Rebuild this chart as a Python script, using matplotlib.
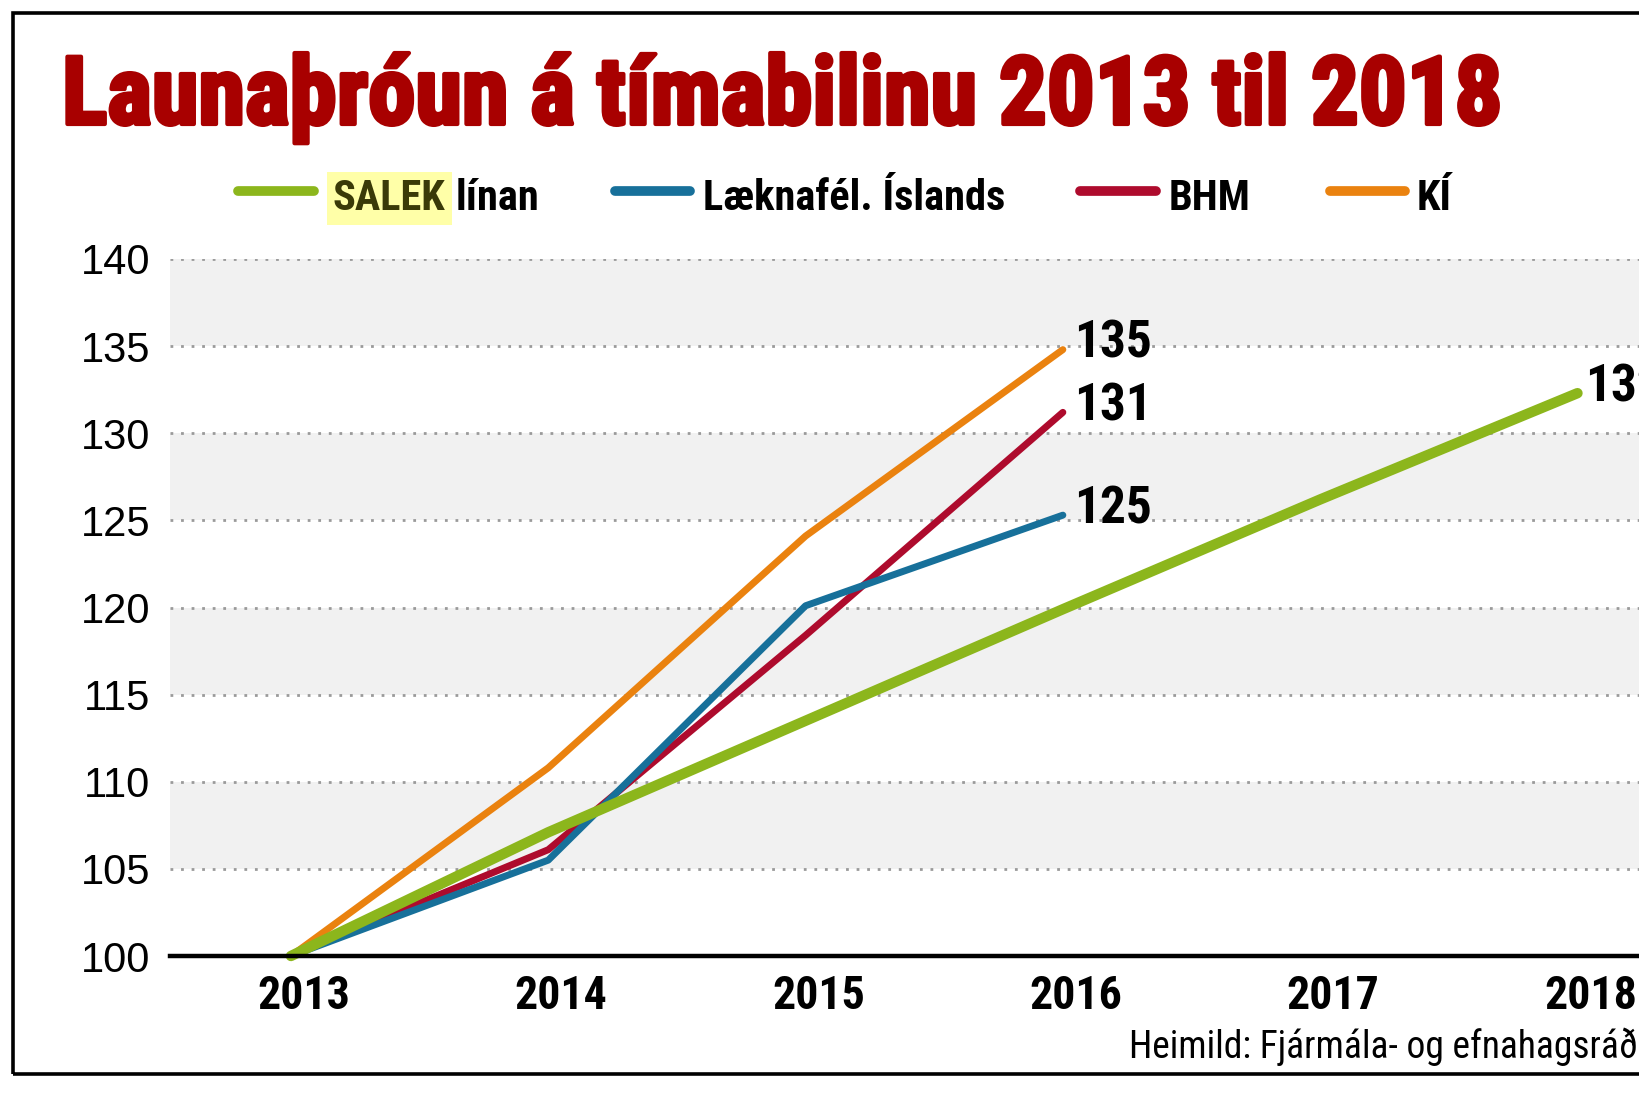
import matplotlib
matplotlib.use("Agg")
import matplotlib.pyplot as plt
from matplotlib import font_manager as fm
from matplotlib.lines import Line2D
from matplotlib.patches import Rectangle
import matplotlib.transforms as mtrans
import matplotlib.patheffects as pe

# ---------------- data ----------------
years = [2013, 2014, 2015, 2016, 2017, 2018]
salek = [100, 107.1, 113.5, 119.9, 126.2, 132.3]
laekna_years = [2013, 2014, 2015, 2016]
laekna = [100, 105.5, 120.1, 125.3]
bhm_years = [2013, 2014, 2015, 2016]
bhm = [100, 106.1, 118.4, 131.2]
ki_years = [2013, 2014, 2015, 2016]
ki = [100, 110.8, 124.1, 134.8]
end_labels = {"salek": "132", "laekna": "125", "bhm": "131", "ki": "135"}
yticks = [100, 105, 110, 115, 120, 125, 130, 135, 140]
title = "Launaþróun á tímabilinu 2013 til 2018"
source = "Heimild: Fjármála- og efnahagsráðuneytið"

GREEN = "#8CB61C"
BLUE = "#17709A"
RED = "#AE0B2D"
ORANGE = "#EA820F"
TITLE_RED = "#A80000"

# ---------------- fonts ----------------
names = {f.name for f in fm.fontManager.ttflist}
cond_family = None
cond_stretch = "normal"
for n in ["Roboto Condensed", "Liberation Sans Narrow", "Open Sans Condensed", "Noto Sans Condensed"]:
    if n in names:
        cond_family = n
        break
if cond_family is None:
    for f in fm.fontManager.ttflist:
        if f.name in ("Noto Sans", "Open Sans", "Roboto", "DejaVu Sans") and str(f.stretch) in ("condensed", "semi-condensed", "extra-condensed"):
            cond_family = f.name
            cond_stretch = "condensed"
            break
if cond_family is None:
    cond_family = "DejaVu Sans"
COND = dict(family=[cond_family, "DejaVu Sans"], stretch=cond_stretch)
REG = "Liberation Sans" if "Liberation Sans" in names else "DejaVu Sans"

W, H = 1640, 1093
fig = plt.figure(figsize=(W / 100, H / 100), dpi=100)
fig.patch.set_facecolor("white")

def fx(px):
    return px / W

def fy(py):
    return 1 - py / H

# frame
fig.add_artist(Rectangle((fx(13), fy(1074)), fx(1700 - 13), (1074 - 13) / H,
                         transform=fig.transFigure, fill=False, edgecolor="black",
                         linewidth=2.6, clip_on=False))

# axes
ax_left, ax_top, ax_bottom = 170, 259, 956
ax = fig.add_axes([fx(ax_left), fy(ax_bottom), 1 - fx(ax_left), (ax_bottom - ax_top) / H])
ax.set_facecolor("white")
ax.set_ylim(100, 140)
ax.set_xlim(2012.530, 2018.243)

for lo in [105, 115, 125, 135]:
    ax.axhspan(lo, lo + 5, color="#F1F1F1", zorder=0, lw=0)
for y in yticks[1:]:
    ax.axhline(y, color="#9A9A9A", lw=2.0, linestyle=(0, (1.0, 2.8)), zorder=1)

for s in ["top", "right", "left"]:
    ax.spines[s].set_visible(False)
ax.spines["bottom"].set_linewidth(3.2)
ax.spines["bottom"].set_color("black")
ax.spines["bottom"].set_zorder(5)

ax.plot(years, salek, color=GREEN, lw=7.5, solid_capstyle="round", solid_joinstyle="round", zorder=4, clip_on=False)
ax.plot(ki_years, ki, color=ORANGE, lw=5.0, solid_capstyle="round", solid_joinstyle="round", zorder=3, clip_on=False)
ax.plot(bhm_years, bhm, color=RED, lw=5.0, solid_capstyle="round", solid_joinstyle="round", zorder=3, clip_on=False)
ax.plot(laekna_years, laekna, color=BLUE, lw=5.0, solid_capstyle="round", solid_joinstyle="round", zorder=3, clip_on=False)

# end labels
for xs, ys, key, dx in [(years, salek, "salek", 8), (ki_years, ki, "ki", 11),
                        (bhm_years, bhm, "bhm", 11), (laekna_years, laekna, "laekna", 11)]:
    tr = mtrans.offset_copy(ax.transData, fig=fig, x=dx, y=6, units="dots")
    ax.text(xs[-1], ys[-1], end_labels[key], transform=tr, ha="left", va="center",
            fontsize=37, fontweight="bold", color="black", clip_on=False, **COND)

# ticks
ax.set_yticks(yticks)
ax.set_yticklabels([str(v) for v in yticks], fontsize=30, family=REG)
ax.set_xticks(years)
ax.set_xticklabels([str(y) for y in years], fontsize=33, fontweight="bold", **COND)
ax.tick_params(axis="both", length=0)
ax.tick_params(axis="y", pad=14)
ax.tick_params(axis="x", pad=13)
shift = mtrans.ScaledTranslation(13 / 100, 0, fig.dpi_scale_trans)
for lbl in ax.get_xticklabels():
    lbl.set_transform(lbl.get_transform() + shift)

# title, fitted to reference width
t = fig.text(fx(62), fy(124), title, ha="left", va="baseline", fontsize=64,
             fontweight="black", color=TITLE_RED, **COND)
fig.canvas.draw()
r = fig.canvas.get_renderer()
bb = t.get_window_extent(r)
target = 1502 - 62
t.set_fontsize(64 * target / bb.width)
t.set_path_effects([pe.withStroke(linewidth=3.0, foreground=TITLE_RED)])

# legend
leg_y = 191
base_y = 210
items = [(238, 314, GREEN, 333, None), (615, 690, BLUE, 703, "Læknafél. Íslands"),
         (1080, 1156, RED, 1169, "BHM"), (1330, 1405, ORANGE, 1417, "KÍ")]
for x0, x1, col, tx, label in items:
    fig.add_artist(Line2D([fx(x0), fx(x1)], [fy(leg_y), fy(leg_y)], transform=fig.transFigure,
                          color=col, lw=7, solid_capstyle="round"))
    if label is not None:
        fig.text(fx(tx), fy(base_y), label, ha="left", va="baseline", fontsize=30.5,
                 fontweight="bold", color="black", **COND)
sal = fig.text(fx(333), fy(base_y), "SALEK", ha="left", va="baseline", fontsize=30.5,
               fontweight="bold", color="#3A3A08", **COND,
               bbox=dict(facecolor="#FFFFA8", edgecolor="none", boxstyle="square,pad=0.15"))
fig.canvas.draw()
sb = sal.get_window_extent(fig.canvas.get_renderer())
fig.text((sb.x1 + 10) / W, fy(base_y), "línan", ha="left", va="baseline", fontsize=30.5,
         fontweight="bold", color="black", **COND)

# source
fig.text(fx(1129), fy(1058), source, ha="left", va="baseline", fontsize=27,
         color="black", **COND)

fig.savefig("out.png", dpi=100, facecolor="white")
